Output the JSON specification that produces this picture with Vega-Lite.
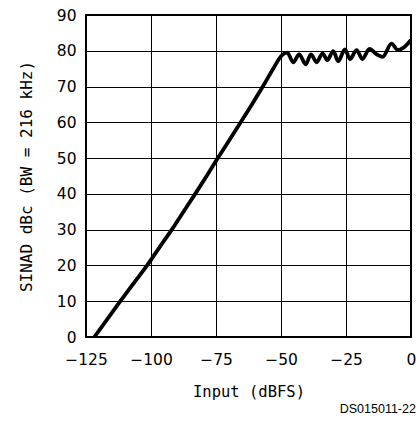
{
  "$schema": "https://vega.github.io/schema/vega-lite/v6.json",
  "width": 325,
  "height": 322,
  "autosize": {"type": "none"},
  "padding": {"left": 86, "top": 15, "right": 8, "bottom": 87},
  "background": "white",
  "config": {
    "view": {"stroke": "black", "strokeWidth": 2},
    "font": "DejaVu Sans Mono"
  },
  "title": {
    "text": "DS015011-22",
    "orient": "bottom",
    "anchor": "end",
    "font": "Liberation Sans",
    "fontSize": 12.5,
    "fontWeight": "normal",
    "color": "black",
    "offset": 3
  },
  "data": {
    "values": [
      {"x": -121.8, "y": 0},
      {"x": -116.8, "y": 5},
      {"x": -111.8, "y": 10},
      {"x": -106.7, "y": 15},
      {"x": -101.5, "y": 20},
      {"x": -96.8, "y": 25},
      {"x": -92.0, "y": 30},
      {"x": -87.5, "y": 35},
      {"x": -83.0, "y": 40},
      {"x": -78.6, "y": 45},
      {"x": -74.3, "y": 50},
      {"x": -69.9, "y": 55},
      {"x": -65.5, "y": 60},
      {"x": -61.2, "y": 65},
      {"x": -57.0, "y": 70},
      {"x": -53.0, "y": 75},
      {"x": -49.6, "y": 78.8},
      {"x": -47.6, "y": 79.5},
      {"x": -45.3, "y": 76.8},
      {"x": -43.0, "y": 79.0},
      {"x": -40.5, "y": 76.2},
      {"x": -38.5, "y": 79.0},
      {"x": -36.3, "y": 76.8},
      {"x": -34.0, "y": 79.3},
      {"x": -32.2, "y": 77.4},
      {"x": -29.9, "y": 79.9},
      {"x": -28.0, "y": 77.1},
      {"x": -25.4, "y": 80.4},
      {"x": -23.5, "y": 77.7},
      {"x": -20.9, "y": 80.2},
      {"x": -18.7, "y": 77.7},
      {"x": -16.0, "y": 80.5},
      {"x": -13.2, "y": 79.0},
      {"x": -10.9, "y": 78.3},
      {"x": -7.5, "y": 82.0},
      {"x": -5.1, "y": 80.2},
      {"x": -3.0, "y": 80.8},
      {"x": 0.0, "y": 83.0}
    ]
  },
  "mark": {"type": "line", "color": "black", "strokeWidth": 3.8, "interpolate": "monotone", "clip": true},
  "encoding": {
    "x": {
      "field": "x",
      "type": "quantitative",
      "scale": {"domain": [-125, 0], "nice": false, "zero": false},
      "axis": {
        "title": "Input (dBFS)",
        "values": [-125, -100, -75, -50, -25, 0],
        "grid": true,
        "gridColor": "black",
        "gridOpacity": 1,
        "gridWidth": 1,
        "domain": false,
        "ticks": false,
        "tickSize": 0,
        "labelPadding": 15,
        "labelFontSize": 15.5,
        "labelColor": "black",
        "labelFont": "DejaVu Sans",
        "labelFlush": false,
        "titleFont": "DejaVu Sans Mono",
        "titleFontSize": 15.5,
        "titleFontWeight": "normal",
        "titleColor": "black",
        "titlePadding": 17
      }
    },
    "y": {
      "field": "y",
      "type": "quantitative",
      "scale": {"domain": [0, 90], "nice": false},
      "axis": {
        "title": "SINAD dBc (BW = 216 kHz)",
        "values": [0, 10, 20, 30, 40, 50, 60, 70, 80, 90],
        "grid": true,
        "gridColor": "black",
        "gridOpacity": 1,
        "gridWidth": 1,
        "domain": false,
        "ticks": false,
        "tickSize": 0,
        "labelPadding": 10,
        "labelFontSize": 15.5,
        "labelColor": "black",
        "labelFont": "DejaVu Sans",
        "labelFlush": false,
        "titleFont": "DejaVu Sans Mono",
        "titleFontSize": 16,
        "titleFontWeight": "normal",
        "titleColor": "black",
        "titlePadding": 22
      }
    }
  }
}
